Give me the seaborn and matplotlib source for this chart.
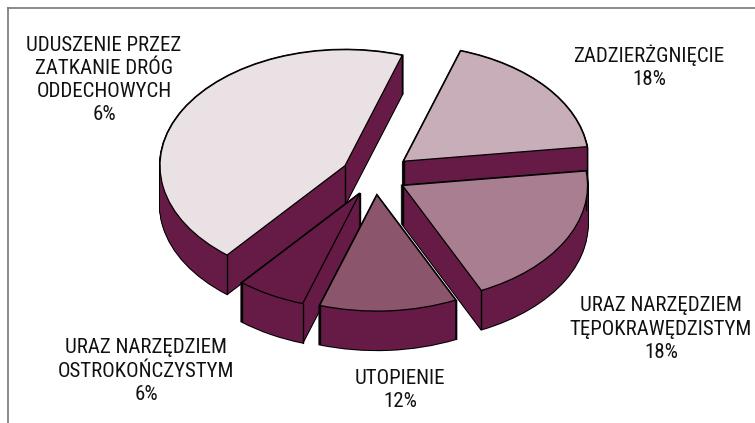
import matplotlib
matplotlib.use("Agg")
import numpy as np
import matplotlib.pyplot as plt
import seaborn as sns

nazwy = ["UDUSZENIE PRZEZ\nZATKANIE DRÓG\nODDECHOWYCH", "URAZ NARZĘDZIEM\nOSTROKOŃCZYSTYM",
         "UTOPIENIE", "URAZ NARZĘDZIEM\nTĘPOKRAWĘDZISTYM", "ZADZIERŻGNIĘCIE"]
udzial = [44, 6, 12, 20, 18]
etykiety_proc = ["6%", "6%", "12%", "18%", "18%"]

kolory = ["#e9e1e4", "#651b45", "#8b556b", "#a87e90", "#c7aeb9"]
bok = "#651b45"

# kolejnosc rysowania od tylu do przodu
kolejnosc = [0, 4, 3, 1, 2]
wysuniecie = [0.185, 0.17, 0.165, 0.17, 0.2]

W, H = 755, 423
RX, RY = 185.0, 116.0
CX, CY = 375.0, 176.0
GLEBOKOSC = 39
START = 72

sns.set_theme(style="white")
plt.rcParams["font.family"] = ["Roboto Condensed", "Liberation Sans", "DejaVu Sans"]
paleta = sns.color_palette(kolory)

fig = plt.figure(figsize=(W / 100, H / 100), dpi=100)
ax = fig.add_axes([7.5 / W, 0, 1 - 7.5 / W, 1 - 8.5 / H])


def warstwa(dy, kol, krawedz, lw, z):
    wedges, _ = ax.pie(udzial, explode=wysuniecie, colors=kol, startangle=START, radius=1,
                       center=(0, -dy), wedgeprops={"edgecolor": krawedz, "linewidth": lw})
    for i, w in enumerate(wedges):
        w.set_zorder(kolejnosc.index(i) * 10 + z)
    return wedges


# boki: najpierw czarna obwodka, potem wypelnienie
kroki = np.arange(0, GLEBOKOSC + 1) / RY
for dy in kroki:
    warstwa(dy, [bok] * 5, "black", 1.5, 0)
for dy in kroki:
    warstwa(dy, [bok] * 5, bok, 0.0, 1)

gora = warstwa(0, paleta, "black", 0.9, 3)

# pionowe krawedzie w naroznikach wycinkow
for i, w in enumerate(gora):
    cx, cy = w.center
    punkty = [(cx, cy)]
    for kat in (w.theta1, w.theta2):
        punkty.append((cx + w.r * np.cos(np.radians(kat)), cy + w.r * np.sin(np.radians(kat))))
    for x, y in punkty:
        ax.plot([x, x], [y, y - GLEBOKOSC / RY], color="black", lw=1.0,
                zorder=kolejnosc.index(i) * 10 + 2)

ax.set_aspect("auto")
ax.set_xlim(-(CX - 7.5) / RX, (W - CX) / RX)
ax.set_ylim(-(H - CY) / RY, (CY - 8.5) / RY)
ax.set_frame_on(True)
ax.set_xticks([])
ax.set_yticks([])
for s in ["right", "bottom"]:
    ax.spines[s].set_visible(False)
for s in ["top", "left"]:
    ax.spines[s].set_color("#777777")
    ax.spines[s].set_linewidth(1.2)

# srodki podpisow w pikselach
pozycje = [(104, 80), (146, 371), (400, 390), (661, 329), (649, 67)]
for nazwa, proc, (px, py) in zip(nazwy, etykiety_proc, pozycje):
    fig.text(px / W, 1 - py / H, nazwa + "\n" + proc, ha="center", va="center",
             fontsize=15, color="#111111", linespacing=1.28)

fig.savefig("out.png", dpi=100)
